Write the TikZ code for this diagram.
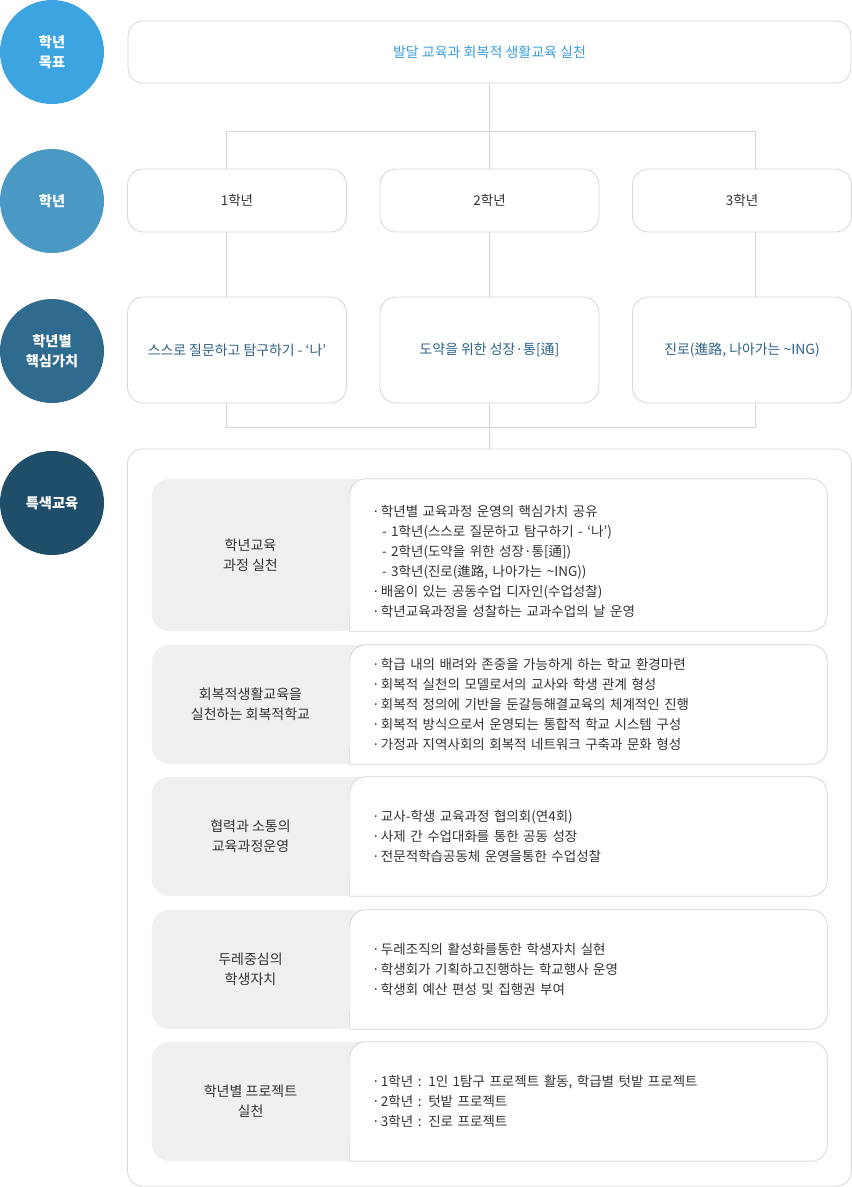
\documentclass[tikz,border=0pt]{standalone}
\usepackage{fontspec}
\setmainfont{Noto Sans CJK KR}
\usepackage{tikz}
\usetikzlibrary{calc, backgrounds}
\definecolor{goalblue}{RGB}{60,165,225}
\definecolor{gradeblue}{RGB}{74,153,197}
\definecolor{valueblue}{RGB}{47,106,143}
\definecolor{specblue}{RGB}{31,78,107}
\definecolor{goaltext}{RGB}{58,158,220}
\definecolor{valuetext}{RGB}{46,98,134}
\definecolor{bodytext}{RGB}{51,51,51}
\definecolor{rowgray}{RGB}{239,240,242}
\definecolor{framegray}{RGB}{214,214,214}
\tikzstyle{stage} = [circle, fill=goalblue, text=white, minimum size=104pt,
    inner sep=0pt, align=center, font=\fontsize{14.2}{20}\selectfont\bfseries]
\tikzstyle{goalbox} = [rectangle, draw=framegray, line width=0.8pt, rounded corners=15pt,
    fill=white, minimum width=723pt, minimum height=62pt, text=goaltext,
    font=\fontsize{14}{20}\selectfont]
\tikzstyle{gradebox} = [rectangle, draw=framegray, line width=0.8pt, rounded corners=16pt,
    fill=white, minimum width=219pt, minimum height=63pt, text=bodytext,
    font=\fontsize{13.5}{20}\selectfont]
\tikzstyle{valuebox} = [gradebox, minimum height=106pt, text=valuetext,
    font=\fontsize{13.9}{20}\selectfont]
\tikzstyle{panel} = [rectangle, draw=framegray, line width=0.8pt, rounded corners=15pt,
    minimum width=724pt, minimum height=737pt]
\tikzstyle{rowhead} = [rectangle, fill=rowgray, rounded corners=18pt, minimum width=198pt,
    inner sep=0pt, align=center, text=bodytext, font=\fontsize{14}{20}\selectfont]
\tikzstyle{rowbody} = [rectangle, inner xsep=22pt, inner ysep=0pt, text width=433pt,
    minimum width=477pt, align=left, text=bodytext, font=\fontsize{13.5}{20}\selectfont]
\tikzstyle{cellframe} = [draw=framegray, line width=0.8pt, fill=white]
\tikzstyle{connector} = [draw=framegray, line width=0.8pt]
\newcommand{\itm}{\makebox[9pt][l]{·}}
\newcommand{\subitm}{\hspace*{10pt}-\ }
\newcommand{\rowcell}[2]{%
  \fill[rowgray] ([xshift=-20pt]#1.north east) rectangle ([xshift=18pt]#1.south east);
  \path[cellframe] (#2.south west) -- ([yshift=-16pt]#2.north west)
    arc[start angle=180, end angle=90, radius=16pt] -- ([xshift=-16pt]#2.north east)
    arc[start angle=90, end angle=0, radius=16pt] -- ([yshift=16pt]#2.south east)
    arc[start angle=0, end angle=-90, radius=16pt] -- cycle;}
\begin{document}
\begin{tikzpicture}[node distance=150pt]
    \useasboundingbox (0,0) rectangle (852pt,-1187pt);
    % Nodes
    \node [stage] (goalc) at (52pt,-52pt) {학년\\목표};
    \node [stage, fill=gradeblue, below of=goalc, node distance=149pt] (gradec) {학년};
    \node [stage, fill=valueblue, below of=gradec] (valuec) {학년별\\핵심가치};
    \node [stage, fill=specblue, below of=valuec, node distance=152pt] (specc) {특색교육};
    \node [goalbox, right of=goalc, node distance=437.5pt] (goal) {발달 교육과 회복적 생활교육 실천};
    \node [gradebox, below of=goal, node distance=148.5pt] (g2) {2학년};
    \node [gradebox, left of=g2, node distance=252.5pt] (g1) {1학년};
    \node [gradebox, right of=g2, node distance=252.5pt] (g3) {3학년};
    \node [valuebox, below of=g1, node distance=149.5pt] (v1) {스스로 질문하고 탐구하기 - ‘나’};
    \node [valuebox, below of=g2, node distance=149.5pt] (v2) {도약을 위한 성장·통[通]};
    \node [valuebox, below of=g3, node distance=149.5pt] (v3) {진로(進路, 나아가는 \textasciitilde ING)};
    \node [panel, below of=v2, node distance=467.5pt] (spec) {};
    % Rows
    \node [rowhead, minimum height=152pt] (h1) at (250.5pt,-555pt) {학년교육\\과정 실천};
    \node [rowbody, minimum height=152pt, right of=h1, node distance=338pt] (r1) {%
        \rule{0pt}{24pt}\itm 학년별 교육과정 운영의 핵심가치 공유\\
        \subitm 1학년(스스로 질문하고 탐구하기 - ‘나’)\\
        \subitm 2학년(도약을 위한 성장·통[通])\\
        \subitm 3학년(진로(進路, 나아가는 \textasciitilde ING))\\
        \itm 배움이 있는 공동수업 디자인(수업성찰)\\
        \itm 학년교육과정을 성찰하는 교과수업의 날 운영};
    \node [rowhead, minimum height=119pt, below of=h1, node distance=149.5pt] (h2) {회복적생활교육을\\실천하는 회복적학교};
    \node [rowbody, minimum height=119pt, right of=h2, node distance=338pt] (r2) {%
        \itm 학급 내의 배려와 존중을 가능하게 하는 학교 환경마련\\
        \itm 회복적 실천의 모델로서의 교사와 학생 관계 형성\\
        \itm 회복적 정의에 기반을 둔갈등해결교육의 체계적인 진행\\
        \itm 회복적 방식으로서 운영되는 통합적 학교 시스템 구성\\
        \itm 가정과 지역사회의 회복적 네트워크 구축과 문화 형성};
    \node [rowhead, minimum height=119pt, below of=h2, node distance=132pt] (h3) {협력과 소통의\\교육과정운영};
    \node [rowbody, minimum height=119pt, right of=h3, node distance=338pt] (r3) {%
        \itm 교사-학생 교육과정 협의회(연4회)\\
        \itm 사제 간 수업대화를 통한 공동 성장\\
        \itm 전문적학습공동체 운영을통한 수업성찰};
    \node [rowhead, minimum height=119pt, below of=h3, node distance=133pt] (h4) {두레중심의\\학생자치};
    \node [rowbody, minimum height=119pt, right of=h4, node distance=338pt] (r4) {%
        \itm 두레조직의 활성화를통한 학생자치 실현\\
        \itm 학생회가 기획하고진행하는 학교행사 운영\\
        \itm 학생회 예산 편성 및 집행권 부여};
    \node [rowhead, minimum height=119pt, below of=h4, node distance=132pt] (h5) {학년별 프로젝트\\실천};
    \node [rowbody, minimum height=119pt, right of=h5, node distance=338pt] (r5) {%
        \itm 1학년 : 1인 1탐구 프로젝트 활동, 학급별 텃밭 프로젝트\\
        \itm 2학년 : 텃밭 프로젝트\\
        \itm 3학년 : 진로 프로젝트};
    \begin{pgfonlayer}{background}
        \rowcell{h1}{r1}
        \rowcell{h2}{r2}
        \rowcell{h3}{r3}
        \rowcell{h4}{r4}
        \rowcell{h5}{r5}
    \end{pgfonlayer}
    % Edges
    \coordinate [below of=goal, node distance=79pt] (topjoin);
    \coordinate [below of=v2, node distance=77pt] (botjoin);
    \path [connector] (goal.south) -- (topjoin);
    \path [connector] (topjoin) -- (g2.north);
    \path [connector] ([xshift=-11pt]g1.north) |- (topjoin);
    \path [connector] ([xshift=13pt]g3.north) |- (topjoin);
    \path [connector] ([xshift=-11pt]g1.south) -- ([xshift=-11pt]v1.north);
    \path [connector] (g2.south) -- (v2.north);
    \path [connector] ([xshift=13pt]g3.south) -- ([xshift=13pt]v3.north);
    \path [connector] ([xshift=-11pt]v1.south) |- (botjoin);
    \path [connector] ([xshift=13pt]v3.south) |- (botjoin);
    \path [connector] (v2.south) -- (botjoin);
    \path [connector] (botjoin) -- (spec.north);
\end{tikzpicture}
\end{document}
